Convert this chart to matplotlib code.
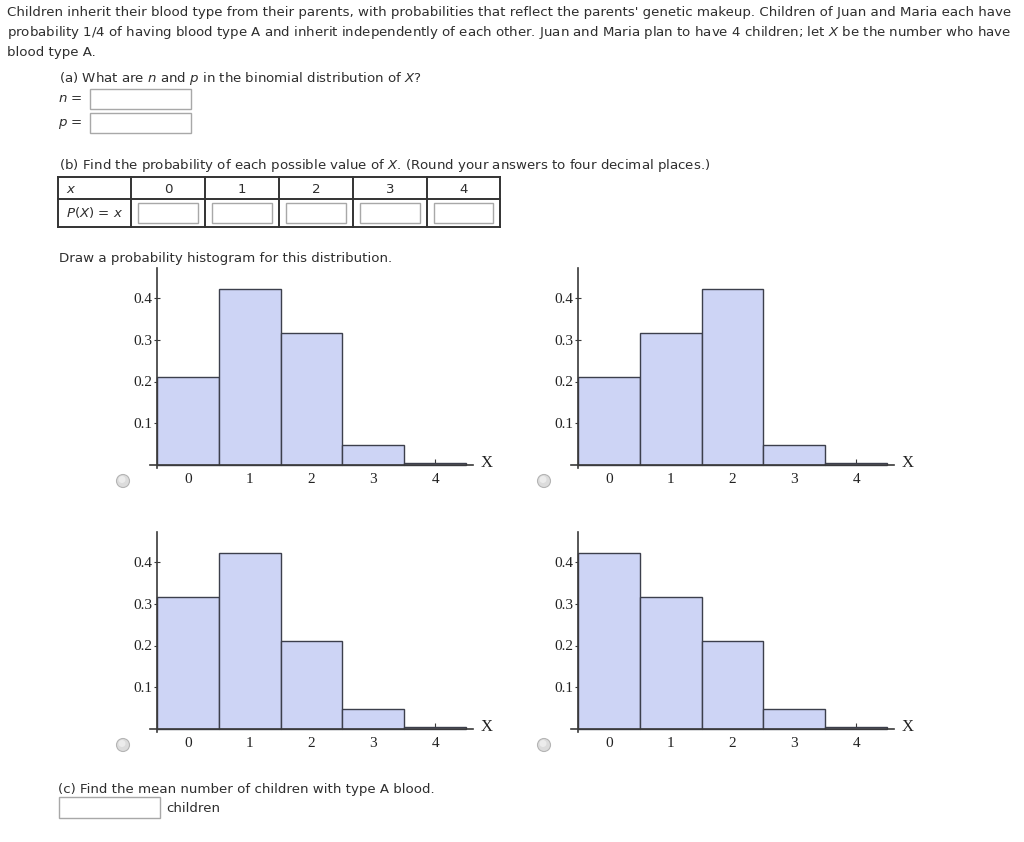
import matplotlib
matplotlib.use("Agg")
import matplotlib.pyplot as plt
from matplotlib.patches import Rectangle, Circle

plt.rcParams['font.family'] = ['DejaVu Sans']
plt.rcParams['mathtext.fontset'] = 'custom'
plt.rcParams['mathtext.it'] = 'DejaVu Sans:italic'
plt.rcParams['mathtext.rm'] = 'DejaVu Sans'

# ---------------- data ----------------
x_values = [0, 1, 2, 3, 4]
probs_top_left = [0.2109, 0.4219, 0.3164, 0.0469, 0.0039]
probs_top_right = [0.2109, 0.3164, 0.4219, 0.0469, 0.0039]
probs_bottom_left = [0.3164, 0.4219, 0.2109, 0.0469, 0.0039]
probs_bottom_right = [0.4219, 0.3164, 0.2109, 0.0469, 0.0039]
y_ticks = [0.1, 0.2, 0.3, 0.4]
y_tick_labels = ["0.1", "0.2", "0.3", "0.4"]
x_tick_labels = ["0", "1", "2", "3", "4"]
table_header = ["$x$", "0", "1", "2", "3", "4"]
table_row = "$P$($X$) = $x$"

TXT = '#2e2e2e'
FS = 9.65
W, H = 1024, 842

fig = plt.figure(figsize=(W / 100, H / 100), dpi=100)
fig.patch.set_facecolor('white')
bg = fig.add_axes([0, 0, 1, 1])
bg.set_xlim(0, W)
bg.set_ylim(H, 0)
bg.axis('off')


def txt(x, y, s, **kw):
    kw.setdefault('fontsize', FS)
    kw.setdefault('color', TXT)
    kw.setdefault('va', 'baseline')
    bg.text(x, y, s, **kw)


def inbox(x0, y0, x1, y1):
    bg.add_patch(Rectangle((x0, y0), x1 - x0, y1 - y0, facecolor='white',
                           edgecolor='#a8a8a8', lw=1.0))


# question text
txt(7, 16, "Children inherit their blood type from their parents, with probabilities that reflect the parents' genetic makeup. Children of Juan and Maria each have")
txt(7, 36, "probability 1/4 of having blood type A and inherit independently of each other. Juan and Maria plan to have 4 children; let $X$ be the number who have")
txt(7, 56, "blood type A.")

txt(59, 82, "(a) What are $n$ and $p$ in the binomial distribution of $X$?")
txt(58, 102, "$n$ =")
inbox(90, 89, 191, 109)
txt(58, 126, "$p$ =")
inbox(90, 113, 191, 133)

txt(59, 169, "(b) Find the probability of each possible value of $X$. (Round your answers to four decimal places.)")

# table
col_x = [58, 131, 205, 279, 353, 427, 500]
row_y = [177, 199, 227]
for cx in col_x:
    bg.plot([cx, cx], [row_y[0], row_y[-1]], color='#333333', lw=1.4, solid_capstyle='projecting')
for ry in row_y:
    bg.plot([col_x[0], col_x[-1]], [ry, ry], color='#333333', lw=1.4, solid_capstyle='projecting')
txt(66, 193, table_header[0])
for i, lab in enumerate(table_header[1:]):
    cx = (col_x[i + 1] + col_x[i + 2]) / 2
    txt(cx, 193, lab, ha='center')
txt(66, 217, table_row)
for i in range(5):
    inbox(col_x[i + 1] + 7, 203, col_x[i + 2] - 7, 223)

txt(59, 262, "Draw a probability histogram for this distribution.")

txt(58, 793, "(c) Find the mean number of children with type A blood.")
inbox(59, 797, 160, 818)
txt(166, 812, "children")

# radio buttons
for (cx, cy) in [(123, 481), (544, 481), (123, 745), (544, 745)]:
    bg.add_patch(Circle((cx, cy), 6.5, facecolor='#dcdcdc', edgecolor='#b4b4b4', lw=0.8))
    bg.add_patch(Circle((cx - 1, cy - 1.5), 3.5, facecolor='#ececec', edgecolor='none'))

# histograms
FILL = '#cdd4f5'
EDGE = '#3c3f4c'
AX = '#3a3a3a'
SERIF = 'Liberation Serif'
TFS = 11
px_per_x = 61.8
px_per_y = 417.5


def hist(probs, axis_px, base_px, top_px):
    left = axis_px - 7
    right = axis_px + 5 * px_per_x + 7
    bottom = base_px + 3
    ax = fig.add_axes([left / W, (H - bottom) / H, (right - left) / W, (bottom - top_px) / H])
    ax.set_xlim(-0.5 - 7 / px_per_x, 4.5 + 7 / px_per_x)
    ax.set_ylim(-3 / px_per_y, (base_px - top_px) / px_per_y)
    ax.patch.set_alpha(0)
    ax.bar(x_values, probs, width=1.0, color=FILL, edgecolor=EDGE, linewidth=1.0, zorder=2)
    for s in ['top', 'right']:
        ax.spines[s].set_visible(False)
    ax.spines['left'].set_position(('data', -0.5))
    ax.spines['bottom'].set_position(('data', 0))
    for s in ['left', 'bottom']:
        ax.spines[s].set_color(AX)
        ax.spines[s].set_linewidth(1.2)
        ax.spines[s].set_zorder(3)
    ax.set_yticks(y_ticks)
    ax.set_yticklabels(y_tick_labels, fontfamily=SERIF, fontsize=TFS, color='#222222')
    ax.set_xticks(x_values)
    ax.set_xticklabels(x_tick_labels, fontfamily=SERIF, fontsize=TFS, color='#222222')
    ax.tick_params(axis='y', direction='inout', length=4, width=0.8, color=AX, pad=1)
    ax.tick_params(axis='x', direction='in', length=4, width=0.8, color=AX, pad=6)
    ax.text(4.84, 0.004, "X", fontfamily=SERIF, fontsize=12, color='#222222',
            ha='center', va='center', clip_on=False)
    return ax


hist(probs_top_left, 157, 465, 268)
hist(probs_top_right, 578, 465, 268)
hist(probs_bottom_left, 157, 729, 532)
hist(probs_bottom_right, 578, 729, 532)

fig.savefig("out.png", dpi=100, facecolor='white')
